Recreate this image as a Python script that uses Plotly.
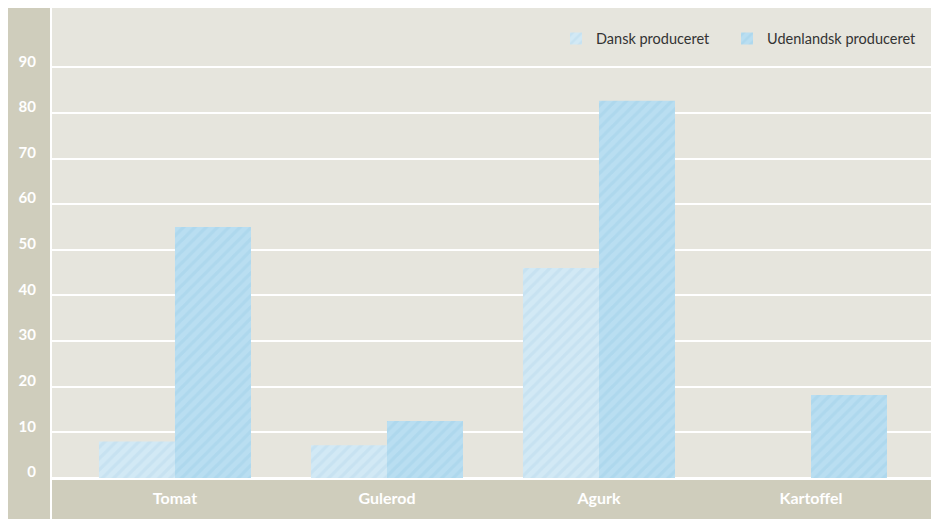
import plotly.graph_objects as go

categories = ["Tomat", "Gulerod", "Agurk", "Kartoffel"]
dansk = [8, 7.2, 46, 0]
udenlandsk = [55, 12.5, 82.7, 18.2]
y_ticks = [0, 10, 20, 30, 40, 50, 60, 70, 80, 90]
series_names = ["Dansk produceret", "Udenlandsk produceret"]

BAND = "#cfcdbc"
PLOT_BG = "#e6e5dd"

fig = go.Figure()
fig.add_trace(go.Bar(
    x=categories, y=dansk, name=series_names[0], legend="legend",
    marker=dict(color="#d0e8f5", line=dict(width=0),
                pattern=dict(shape="/", fgcolor="#bcdbee", bgcolor="#d2e9f5",
                             size=8, solidity=0.4, fillmode="overlay")),
))
fig.add_trace(go.Bar(
    x=categories, y=udenlandsk, name=series_names[1], legend="legend2",
    marker=dict(color="#b6ddf0", line=dict(width=0),
                pattern=dict(shape="/", fgcolor="#a3d1ea", bgcolor="#b9def1",
                             size=8, solidity=0.4, fillmode="overlay")),
))

H = 470.0
W = 879.0
legend_style = dict(orientation="h", xanchor="left", y=0.969, yanchor="top",
                    bgcolor="rgba(0,0,0,0)", font=dict(size=14.5, color="#333333"),
                    itemwidth=30)
fig.update_layout(
    width=931, height=519,
    margin=dict(l=52, r=0, t=8, b=41, pad=0),
    paper_bgcolor="white",
    plot_bgcolor=PLOT_BG,
    barmode="group", bargap=0.283, bargroupgap=0,
    font=dict(family="Lato, Open Sans, sans-serif", size=15, color="#333333"),
    showlegend=True,
    legend=dict(x=(556 - 52) / W, **legend_style),
    legend2=dict(x=(727 - 52) / W, **legend_style),
    xaxis=dict(range=[-0.58, 3.566], showgrid=False, zeroline=False, showline=False,
               ticks="", tickfont=dict(family="Lato, sans-serif", size=16, color="white", weight="bold"),
               ticklabelstandoff=9, fixedrange=True),
    yaxis=dict(range=[0, 103], tickvals=y_ticks, ticktext=[str(v) for v in y_ticks],
               showgrid=True, gridcolor="white", gridwidth=2,
               zeroline=True, zerolinecolor="white", zerolinewidth=2,
               showline=False, ticks="",
               tickfont=dict(family="Lato, sans-serif", size=15, color="white", weight="bold"),
               ticklabelstandoff=15, ticklabelshift=-6, fixedrange=True),
    shapes=[
        dict(type="rect", xref="paper", yref="paper", x0=-44 / W, x1=-2 / W,
             y0=-41 / H, y1=1, fillcolor=BAND, line=dict(width=0), layer="below"),
        dict(type="rect", xref="paper", yref="paper", x0=0, x1=1,
             y0=-41 / H, y1=-2 / H, fillcolor=BAND, line=dict(width=0), layer="below"),
    ],
)

fig.write_html(
    "out.html",
    config={"displayModeBar": False},
    post_script="document.documentElement.style.overflow='hidden';document.body.style.overflow='hidden';document.body.style.margin='0';",
)
